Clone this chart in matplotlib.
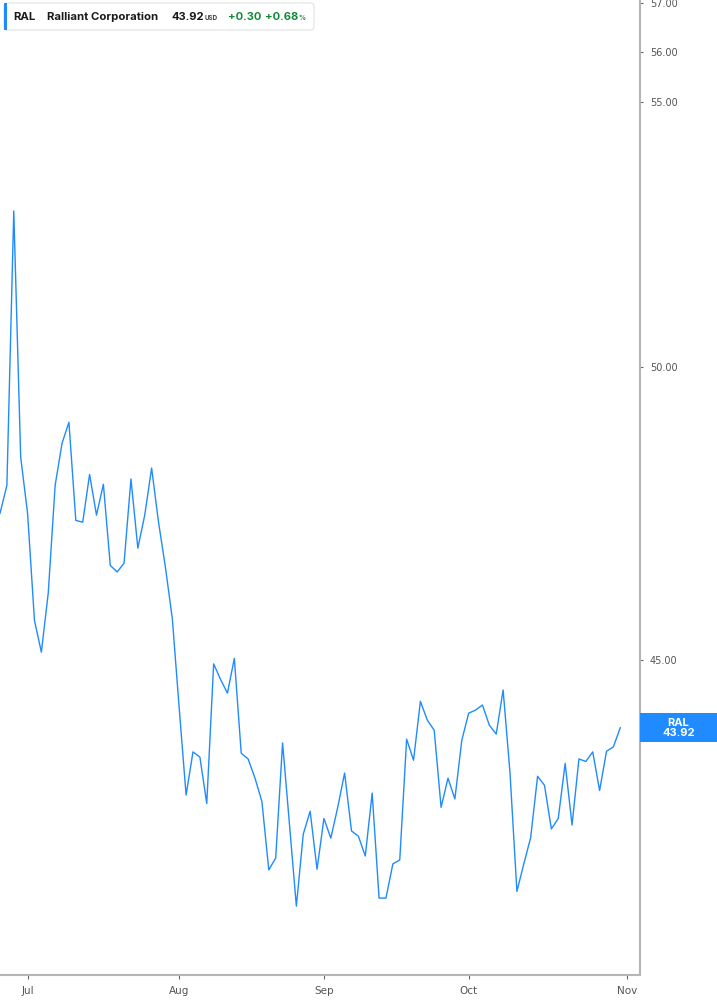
import matplotlib
matplotlib.use('Agg')
import matplotlib.pyplot as plt
from matplotlib.patches import FancyBboxPatch, Rectangle
import numpy as np

# Daily closes, Jun 25 - Oct 31 (trading days only)
closes = [47.44, 47.92, 52.89, 48.41, 47.44, 45.65, 45.13, 46.10, 47.92, 48.65,
          49.02, 47.32, 47.29, 48.11, 47.41, 47.94, 46.56, 46.45, 46.60, 48.03,
          46.85, 47.41, 48.22, 47.29, 46.53, 45.68, 44.23, 42.87, 43.54, 43.46,
          42.74, 44.94, 44.69, 44.47, 45.03, 43.52, 43.43, 43.13, 42.77, 41.73,
          41.91, 43.68, 42.42, 41.19, 42.27, 42.62, 41.74, 42.51, 42.21, 42.68,
          43.21, 42.32, 42.24, 41.94, 42.90, 41.31, 41.31, 41.82, 41.88, 43.74,
          43.41, 44.34, 44.04, 43.88, 42.68, 43.13, 42.81, 43.72, 44.15, 44.20,
          44.28, 43.96, 43.82, 44.52, 43.21, 41.41, 41.82, 42.22, 43.16, 43.02,
          42.35, 42.51, 43.36, 42.41, 43.43, 43.39, 43.54, 42.94, 43.55, 43.62,
          43.92]

# first trading day of each month, as index into closes
month_pos = [4, 26, 47, 68, 91]
month_labels = ['Jul', 'Aug', 'Sep', 'Oct', 'Nov']

y_ticks = [45, 50, 55, 56, 57]

ticker = 'RAL'
name = 'Ralliant Corporation'
change = 0.30
change_pct = 0.68

LINE_BLUE = '#1f8bff'
GREEN = '#138a3b'
AXIS_GREY = '#b5b5b5'

W, H = 717, 1005
fig = plt.figure(figsize=(W / 100, H / 100), dpi=100)
ax = fig.add_axes([0, (H - 974.5) / H, 640 / W, 974.5 / H])

x = np.arange(len(closes))
ax.plot(x, closes, color=LINE_BLUE, linewidth=1.0)

ax.set_yscale('log')
ax.set_ylim(40.19, 57.06)
ax.set_xlim(0, 92.86)

ax.yaxis.tick_right()
ax.set_yticks(y_ticks)
ax.set_yticklabels([f'{v:.2f}' for v in y_ticks])
ax.yaxis.set_minor_locator(matplotlib.ticker.NullLocator())
ax.set_xticks(month_pos)
ax.set_xticklabels(month_labels)

for s in ['left', 'top']:
    ax.spines[s].set_visible(False)
for s in ['right', 'bottom']:
    ax.spines[s].set_color(AXIS_GREY)
    ax.spines[s].set_linewidth(1.5)

ax.tick_params(axis='y', length=2.5, width=0.8, color='#666666', pad=4.5,
               labelsize=7, labelcolor='#555555')
ax.tick_params(axis='x', length=3, width=0.8, color='#666666', pad=5,
               labelsize=7.5, labelcolor='#555555')


def fx(px):
    return px / W


def fy(py):
    return 1 - py / H


# header box
fig.patches.append(FancyBboxPatch((fx(4), fy(30)), fx(310), 27 / H,
                                  boxstyle='round,pad=0,rounding_size=0.004',
                                  transform=fig.transFigure, facecolor='white',
                                  edgecolor='#e2e2e2', linewidth=0.8, zorder=5))
fig.patches.append(Rectangle((fx(3.5), fy(30)), fx(3.5), 27 / H,
                             transform=fig.transFigure, facecolor=LINE_BLUE,
                             edgecolor='none', zorder=6))

hy = fy(17)
hfont = dict(family=['Inter', 'DejaVu Sans'], va='center', zorder=7)
fig.text(fx(13), hy, ticker, fontsize=8.2, fontweight='bold', color='#1a1a1a', **hfont)
fig.text(fx(47), hy, name, fontsize=8.2, fontweight='bold', color='#1a1a1a', **hfont)
fig.text(fx(171), hy, f'{closes[-1]:.2f}', fontsize=8, fontweight='bold', color='#1a1a1a', **hfont)
fig.text(fx(205), fy(18.5), 'USD', fontsize=4.5, fontweight='bold', color='#444444', **hfont)
fig.text(fx(228), hy, f'+{change:.2f}', fontsize=8, fontweight='bold', color=GREEN, **hfont)
fig.text(fx(265), hy, f'+{change_pct:.2f}', fontsize=8, fontweight='bold', color=GREEN, **hfont)
fig.text(fx(298), fy(18.5), '%', fontsize=5, fontweight='bold', color=GREEN, **hfont)

# last price label on the right axis
fig.canvas.draw()
y_disp = ax.transData.transform((0, closes[-1]))[1]
y_fig = y_disp / (H)
box_h = 29 / H
fig.patches.append(Rectangle((fx(640), y_fig - box_h / 2), fx(W - 640), box_h,
                             transform=fig.transFigure, facecolor=LINE_BLUE,
                             edgecolor='none', zorder=5))
fig.text(fx(678.5), y_fig, f'{ticker}\n{closes[-1]:.2f}', ha='center', va='center',
         fontsize=8, fontweight='bold', color='white', linespacing=1.0,
         family=['Inter', 'DejaVu Sans'], zorder=6)

fig.savefig('out.png', dpi=100)
